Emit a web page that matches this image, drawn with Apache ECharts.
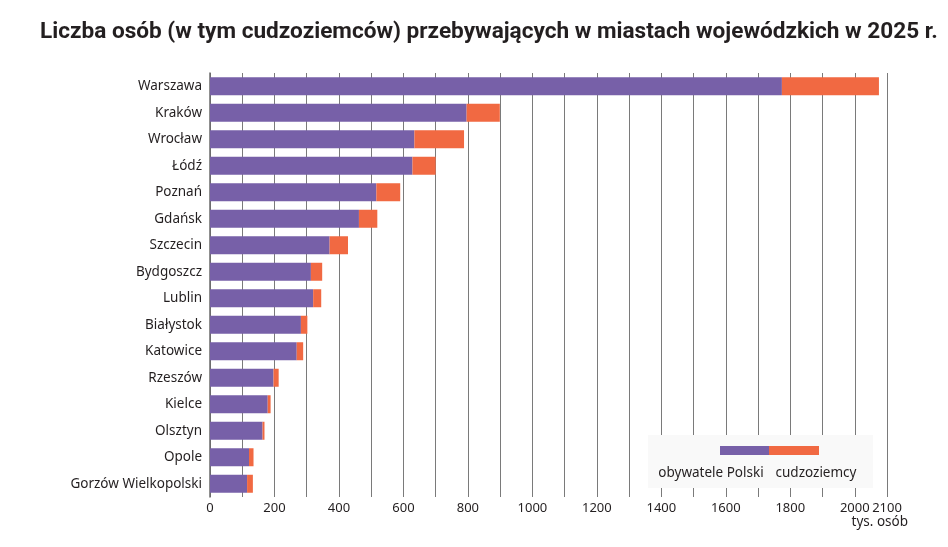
<!DOCTYPE html>
<html>
<head>
<meta charset="utf-8">
<script src="https://cdn.jsdelivr.net/npm/echarts@6/dist/echarts.min.js"></script>
<style>
html,body{margin:0;padding:0;background:#fff;}
#chart{width:948px;height:547px;}
</style>
</head>
<body>
<div id="chart"></div>
<script>
var cities = ["Warszawa","Kraków","Wrocław","Łódź","Poznań","Gdańsk","Szczecin","Bydgoszcz","Lublin","Białystok","Katowice","Rzeszów","Kielce","Olsztyn","Opole","Gorzów Wielkopolski"];
var polishCitizens = [1774,796,634,628,516,462,371,313,320,282,269,197,179,163,121,115];
var foreigners = [301,103,154,72,74,57,57,35,25,20,20,16,9,6,14,18];
var tickLabels = [0,200,400,600,800,1000,1200,1400,1600,1800,2000,2100];
var seriesNames = ["obywatele Polski","cudzoziemcy"];
var titleText = "Liczba osób (w tym cudzoziemców) przebywających w miastach wojewódzkich w 2025 r.";
var unitText = "tys. osób";

var PURPLE = "#7760a8", ORANGE = "#f16942";
var chart = echarts.init(document.getElementById('chart'));
var FONT = "Noto Sans";
chart.setOption({
  animation: false,
  backgroundColor: "#fff",
  title: {
    text: titleText,
    left: 35, top: 16,
    textStyle: {fontFamily: "Roboto", fontWeight: "bold", fontSize: 22.6, color: "#231f20"}
  },
  grid: {left: 210, right: 61, top: 73, bottom: 50, containLabel: false},
  xAxis: {
    type: "value", min: 0, max: 2100, interval: 100,
    axisLine: {show: false},
    axisTick: {show: false},
    splitLine: {show: true, lineStyle: {color: "#7a7a7a", width: 1}},
    axisLabel: {
      fontFamily: FONT, fontSize: 13, color: "#231f20", margin: 5,
      showMaxLabel: true,
      formatter: function (v) { return tickLabels.indexOf(v) >= 0 ? String(v) : ""; }
    }
  },
  yAxis: {
    type: "category", data: cities, inverse: true,
    axisLine: {show: true, lineStyle: {color: "#6a6a6a", width: 1.5}},
    axisTick: {show: false},
    axisLabel: {fontFamily: FONT, fontSize: 13.5, color: "#231f20", margin: 8}
  },
  series: [
    {name: seriesNames[0], type: "bar", stack: "t", data: polishCitizens, barWidth: 18,
      itemStyle: {color: PURPLE}, z: 3},
    {name: seriesNames[1], type: "bar", stack: "t", data: foreigners, barWidth: 18,
      itemStyle: {color: ORANGE}, z: 3}
  ],
  graphic: [
    {type: "rect", shape: {x: 648, y: 435, width: 225, height: 53}, style: {fill: "#f9f9f9"}, z: 10},
    {type: "rect", shape: {x: 720, y: 446, width: 49, height: 9}, style: {fill: PURPLE}, z: 11},
    {type: "rect", shape: {x: 769, y: 446, width: 50, height: 9}, style: {fill: ORANGE}, z: 11},
    {type: "text", x: 711, y: 473, style: {text: seriesNames[0], fontFamily: FONT, fontSize: 13.5, fill: "#231f20", align: "center", verticalAlign: "middle"}, z: 11},
    {type: "text", x: 816, y: 473, style: {text: seriesNames[1], fontFamily: FONT, fontSize: 13.5, fill: "#231f20", align: "center", verticalAlign: "middle"}, z: 11},
    {type: "text", x: 908, y: 522, style: {text: unitText, fontFamily: FONT, fontSize: 13.5, fill: "#231f20", align: "right", verticalAlign: "middle"}, z: 11}
  ]
});
</script>
</body>
</html>
